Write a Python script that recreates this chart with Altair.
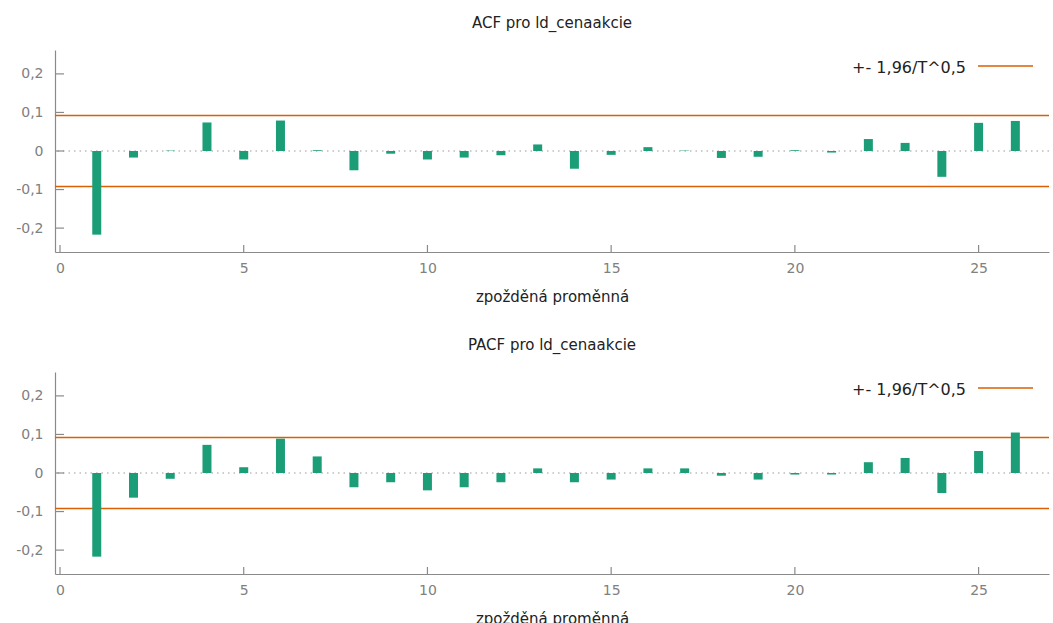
import altair as alt
import pandas as pd

# Correlogram values for lags 1..26
lags = list(range(1, 27))
acf_values = [-0.217, -0.017, 0.001, 0.074, -0.022, 0.079, 0.002, -0.050, -0.007, -0.022,
              -0.017, -0.011, 0.017, -0.046, -0.010, 0.010, 0.001, -0.018, -0.015, 0.002,
              -0.004, 0.031, 0.021, -0.067, 0.073, 0.078]
pacf_values = [-0.217, -0.064, -0.015, 0.073, 0.015, 0.089, 0.043, -0.037, -0.024, -0.045,
               -0.037, -0.024, 0.012, -0.024, -0.017, 0.012, 0.012, -0.007, -0.017, -0.004,
               -0.004, 0.028, 0.039, -0.052, 0.057, 0.105]

band = 0.0922  # 1.96 / sqrt(T)
x_ticks = [0, 5, 10, 15, 20, 25]
y_ticks = [-0.2, -0.1, 0, 0.1, 0.2]
legend_label = "+- 1,96/T^0,5"

W, H = 994, 202
GREEN = "#1b9e77"
ORANGE = "#d95f02"
GRAY = "#8a8a8a"
FONT = "DejaVu Sans"

x_scale = alt.Scale(domain=[0, 26.78], nice=False, zero=False)
y_scale = alt.Scale(domain=[-0.262, 0.262], nice=False, zero=False)

y_label_expr = ("datum.value == 0 ? '0' : (datum.value < 0 ? '-' : '') + "
                "replace(format(abs(datum.value), '.1f'), '.', ',')")

x_axis = alt.Axis(values=x_ticks, ticks=False, grid=False, title="zpožděná proměnná",
                  labelPadding=9, titlePadding=14, labelFlush=False)
y_axis = alt.Axis(values=y_ticks, ticks=False, grid=False, title=None,
                  labelPadding=12, labelExpr=y_label_expr)


def xq(field="lag"):
    return alt.X(f"{field}:Q", scale=x_scale, axis=x_axis, title="zpožděná proměnná")


def yq(field="value"):
    return alt.Y(f"{field}:Q", scale=y_scale, axis=y_axis, title=None)


def panel(title, values):
    df = pd.DataFrame({"lag": lags, "value": values})

    bars = alt.Chart(df).mark_bar(size=9, color=GREEN).encode(
        x=xq(), y=yq(), y2=alt.datum(0),
    )

    zero_line = alt.Chart(pd.DataFrame({"value": [0]})).mark_rule(
        color="#9a9a9a", strokeDash=[1.5, 4], strokeWidth=1.2
    ).encode(y=yq())

    bands = alt.Chart(pd.DataFrame({"value": [band, -band]})).mark_rule(
        color=ORANGE, strokeWidth=1.5
    ).encode(y=yq())

    # inward tick marks on both axes
    y_tick_marks = alt.Chart(pd.DataFrame({"value": y_ticks})).mark_rule(
        color=GRAY, strokeWidth=1.2
    ).encode(y=yq(), x=alt.value(0), x2=alt.value(9))

    x_tick_marks = alt.Chart(pd.DataFrame({"lag": x_ticks})).mark_rule(
        color=GRAY, strokeWidth=1.2
    ).encode(x=xq(), y=alt.value(H), y2=alt.value(H - 7))

    # key for the confidence band
    key_text = alt.Chart(pd.DataFrame({"label": [legend_label]})).mark_text(
        align="right", baseline="middle", font=FONT, fontSize=16, color="#222222"
    ).encode(text="label:N", x=alt.value(911), y=alt.value(18))

    key_line = alt.Chart(pd.DataFrame({"label": [legend_label]})).mark_rule(
        color=ORANGE, strokeWidth=1.5
    ).encode(x=alt.value(923), x2=alt.value(978), y=alt.value(16))

    return alt.layer(
        zero_line, bands, bars, y_tick_marks, x_tick_marks, key_text, key_line
    ).properties(
        width=W, height=H,
        title=alt.Title(title, font=FONT, fontSize=15, fontWeight="normal",
                        color="#222222", offset=19, anchor="middle"),
    )


chart = alt.vconcat(
    panel("ACF pro ld_cenaakcie", acf_values),
    panel("PACF pro ld_cenaakcie", pacf_values),
    spacing=34,
).properties(
    padding={"left": 15, "right": 0, "top": 16, "bottom": 0},
).configure_view(
    stroke=None
).configure_axis(
    domainColor=GRAY, domainWidth=1.2,
    labelColor="#808080", labelFont=FONT, labelFontSize=14,
    titleColor="#222222", titleFont=FONT, titleFontSize=15, titleFontWeight="normal",
)

chart.save("out.html", embed_options={"renderer": "svg", "actions": False})
